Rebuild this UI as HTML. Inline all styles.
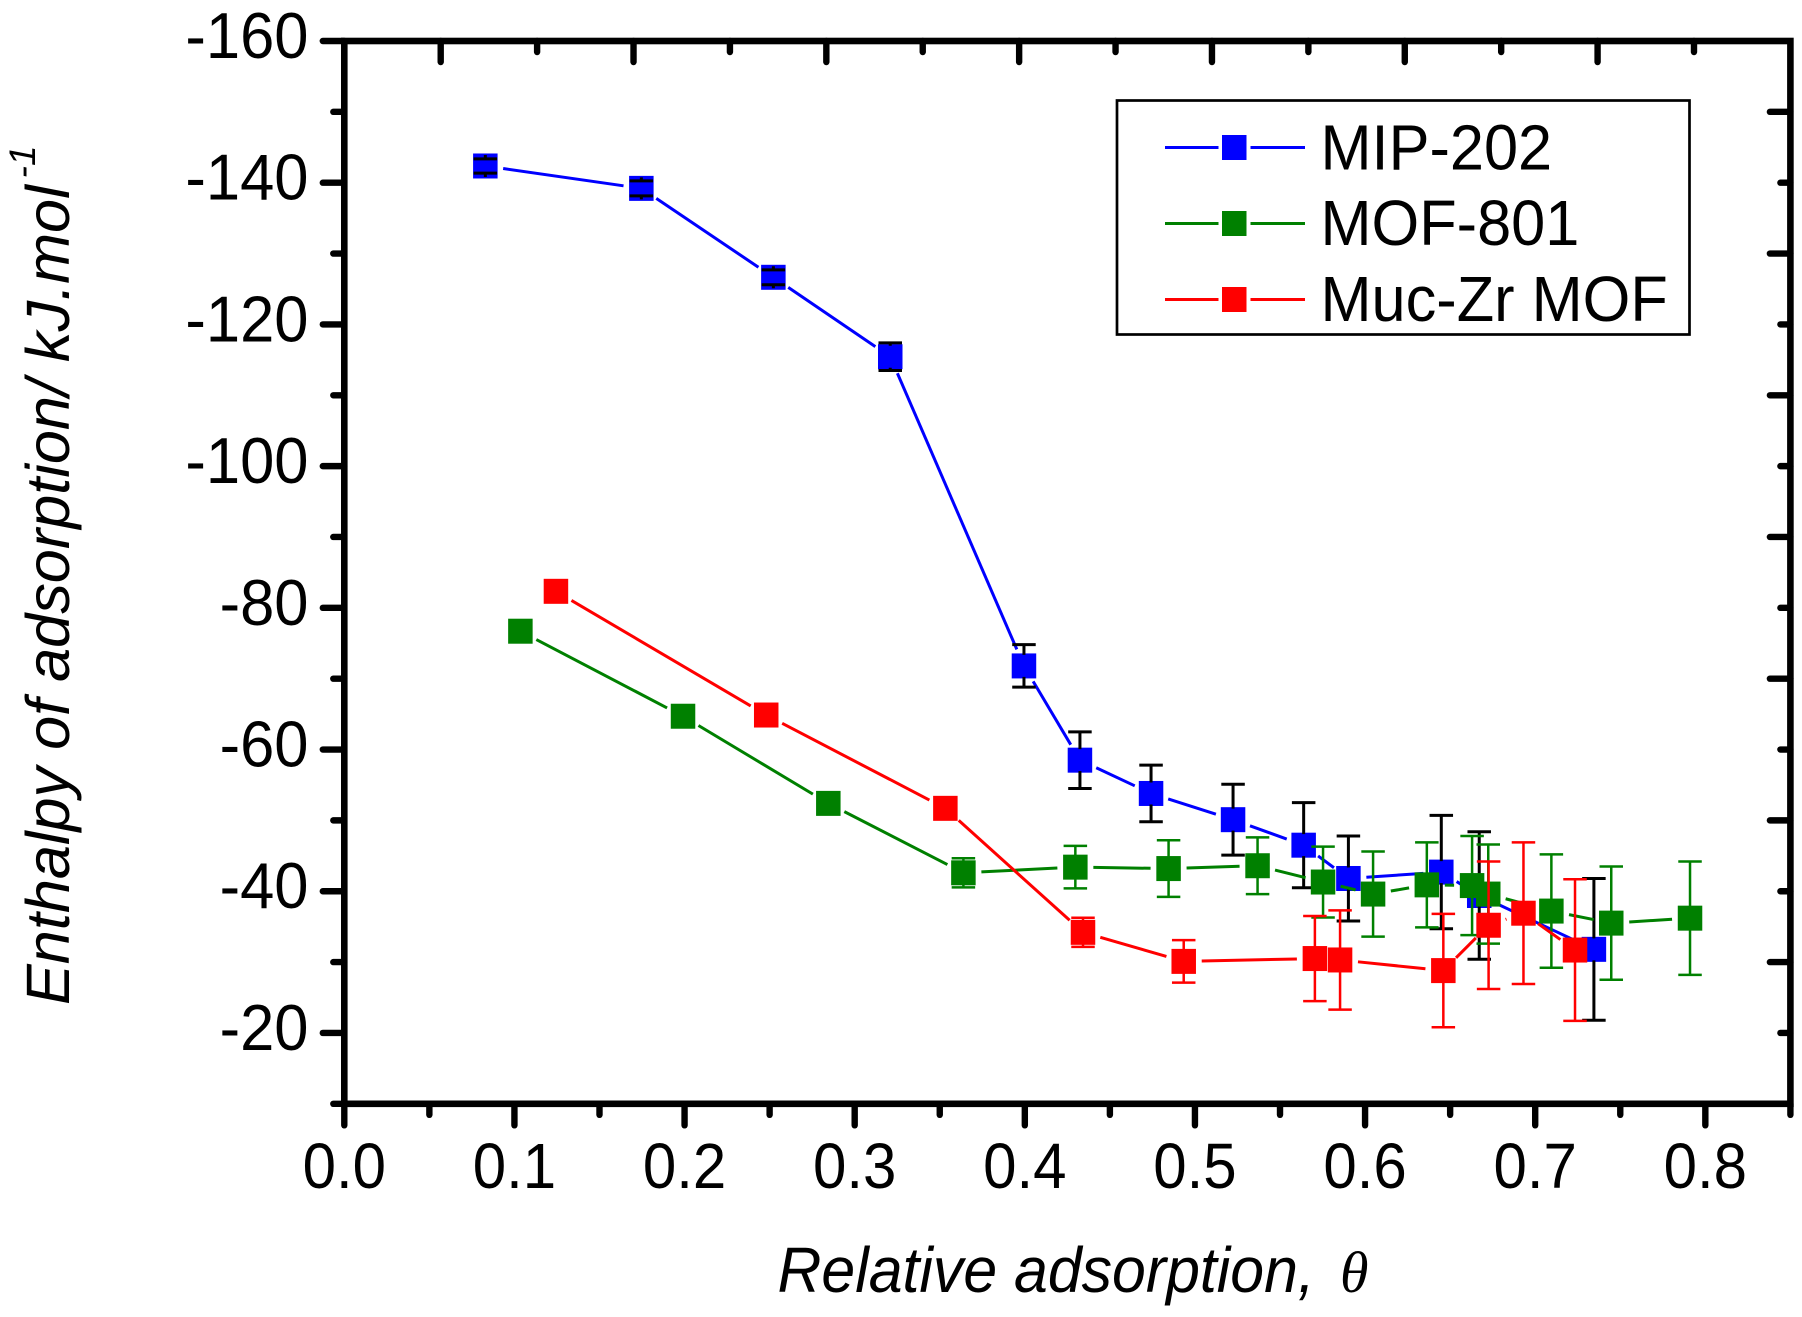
<!DOCTYPE html>
<html lang="en">
<head>
<meta charset="utf-8">
<title>Enthalpy of adsorption vs relative adsorption</title>
<style>
html,body{margin:0;padding:0;background:#fff;}
svg{display:block;}
text{font-family:"Liberation Sans",Arial,sans-serif;fill:#000;}
</style>
</head>
<body>
<svg id="chart" xmlns="http://www.w3.org/2000/svg" width="1802" height="1317" viewBox="0 0 1802 1317">
  <rect x="0" y="0" width="1802" height="1317" fill="#fff"/>
  <g id="series-layer"></g>
  <g id="axis-layer"></g>
  <text transform="translate(69,1005) rotate(-90)" font-size="61.2" font-style="italic">Enthalpy of adsorption/ kJ.mol<tspan dx="7" dy="-34" font-size="37">-1</tspan></text>
  <text transform="translate(777.5,1292) scale(1,1.05)" font-size="60.8" font-style="italic">Relative adsorption,</text>
  <text transform="translate(1340,1292)" font-size="58" font-style="italic" style="font-family:'Liberation Serif',serif">θ</text>
  <g>
    <rect x="1117" y="100.5" width="572.5" height="234" fill="#fff" stroke="#000" stroke-width="2.7"/>
    <g>
      <line x1="1165" x2="1218.5" y1="147.5" y2="147.5" stroke="#0000ff" stroke-width="3"/>
      <line x1="1250.5" x2="1305" y1="147.5" y2="147.5" stroke="#0000ff" stroke-width="3"/>
      <rect x="1222" y="135" width="24.5" height="25" fill="#0000ff"/>
      <text transform="translate(1320.5,169.5) scale(1,1.05)" font-size="61.3">MIP-202</text>
    </g>
    <g>
      <line x1="1165" x2="1218.5" y1="223.5" y2="223.5" stroke="#008000" stroke-width="3"/>
      <line x1="1250.5" x2="1305" y1="223.5" y2="223.5" stroke="#008000" stroke-width="3"/>
      <rect x="1222" y="211" width="24.5" height="25" fill="#008000"/>
      <text transform="translate(1320.5,245) scale(1,1.05)" font-size="61.3">MOF-801</text>
    </g>
    <g>
      <line x1="1165" x2="1218.5" y1="299.5" y2="299.5" stroke="#ff0000" stroke-width="3"/>
      <line x1="1250.5" x2="1305" y1="299.5" y2="299.5" stroke="#ff0000" stroke-width="3"/>
      <rect x="1222" y="287" width="24.5" height="25" fill="#ff0000"/>
      <text transform="translate(1320.5,321) scale(1,1.05)" font-size="61.3">Muc-Zr MOF</text>
    </g>
  </g>
</svg>
<script>
// Data
const mipX = [0.0829,0.1746,0.2522,0.3209,0.3995,0.4324,0.4742,0.5224,0.5639,0.5902,0.6448,0.6671,0.7345];
const mipY = [-142.36,-139.2,-126.65,-115.44,-71.8,-58.5,-53.8,-50.1,-46.5,-41.8,-42.7,-39.4,-31.8];
const mipErr = [1,1.05,1.05,1.95,3,4,4,5,6,6,8,9,10];
const mofX = [0.1035,0.1991,0.2845,0.3639,0.4297,0.4845,0.5368,0.5753,0.6047,0.6363,0.6629,0.6724,0.7095,0.7447,0.7910];
const mofY = [-76.7,-64.7,-52.4,-42.6,-43.4,-43.2,-43.6,-41.3,-39.6,-40.9,-40.8,-39.6,-37.2,-35.5,-36.2];
const mofErr = [0.5,0.5,0.5,2.05,3,4,4,5,6,6,7,7,8,8,8];
const mucX = [0.1244,0.2480,0.3533,0.4342,0.4934,0.5705,0.5853,0.6460,0.6726,0.6931,0.7234];
const mucY = [-82.33,-64.87,-51.7,-34.2,-30.1,-30.5,-30.3,-28.8,-35.2,-36.9,-31.7];
const mucErr = [0.5,0.5,0.5,2.05,3,6,7,8,9,10,10];
const yMajorTicks = [-160,-140,-120,-100,-80,-60,-40,-20];
const yMinorTicks = [-150,-130,-110,-90,-70,-50,-30,-10];
const yRightMajorTicks = [-150,-130,-110,-90,-70,-50,-30];
const yRightMinorTicks = [-140,-120,-100,-80,-60,-40,-20];
const xMajorTicks = [0,0.1,0.2,0.3,0.4,0.5,0.6,0.7,0.8];
const xMinorTicks = [0.05,0.15,0.25,0.35,0.45,0.55,0.65,0.75,0.85];
const xTickLabels = ['0.0','0.1','0.2','0.3','0.4','0.5','0.6','0.7','0.8'];
const yTickLabels = ['-160','-140','-120','-100','-80','-60','-40','-20'];
const topTickIndex = [1,2,3,4,5,6,7,8,9,10,11,12,13,14];

const NS = 'http://www.w3.org/2000/svg';
const left = 344.3, right = 1790.4, top_ = 41, bottom = 1103.8;
const xMin = 0, xMax = 0.85, yMin = -160, yMax = -10;
function sx(v){ return left + (v - xMin) / (xMax - xMin) * (right - left); }
function sy(v){ return top_ + (v - yMin) / (yMax - yMin) * (bottom - top_); }
function mk(tag, parent, attrs){
  const e = document.createElementNS(NS, tag);
  for (const k in attrs) e.setAttribute(k, attrs[k]);
  parent.appendChild(e);
  return e;
}

// Series
const seriesLayer = document.getElementById('series-layer');
function drawSeries(name, xs, ys, errs, color, errColor, errWidth){
  const g = mk('g', seriesLayer, {});
  
  
  const gap = 18;
  for (let i = 0; i < xs.length - 1; i++){
    const x1 = sx(xs[i]), y1 = sy(ys[i]), x2 = sx(xs[i+1]), y2 = sy(ys[i+1]);
    const d = Math.hypot(x2 - x1, y2 - y1);
    if (d <= gap * 2) continue;
    const ux = (x2 - x1) / d, uy = (y2 - y1) / d;
    const seg = mk('line', g, {x1: x1 + ux * gap, y1: y1 + uy * gap, x2: x2 - ux * gap, y2: y2 - uy * gap, stroke: color, 'stroke-width': 3});
    
    
  }
  for (let i = 0; i < xs.length; i++){
    const cx = sx(xs[i]), cy = sy(ys[i]);
    const m = mk('rect', g, {x: cx - 12.25, y: cy - 12.5, width: 24.5, height: 25, fill: color});
    
    
    const up = sy(ys[i] - errs[i]), dn = sy(ys[i] + errs[i]);
    if (errs[i] >= 1){
      const eb = mk('path', g, {
        d: 'M' + cx + ' ' + (cy - 11) + 'V' + up + 'M' + (cx - 11.75) + ' ' + up + 'H' + (cx + 11.75) +
           'M' + cx + ' ' + (cy + 11) + 'V' + dn + 'M' + (cx - 11.75) + ' ' + dn + 'H' + (cx + 11.75),
        fill: 'none', stroke: errColor, 'stroke-width': errWidth});
      
      
    }
  }
}
drawSeries('mip-202', mipX, mipY, mipErr, '#0000ff', '#000000', 3);
drawSeries('mof-801', mofX, mofY, mofErr, '#008000', '#008000', 2.5);
drawSeries('muc-zr-mof', mucX, mucY, mucErr, '#ff0000', '#ff0000', 2.5);

// Axes
const axisLayer = document.getElementById('axis-layer');
const frame = mk('rect', axisLayer, {x: left, y: top_, width: right - left, height: bottom - top_, fill: 'none', stroke: '#000', 'stroke-width': 6.6});


function tick(x1, y1, x2, y2, name){
  const t = mk('line', axisLayer, {x1: x1, y1: y1, x2: x2, y2: y2, stroke: '#000', 'stroke-width': 6.4, 'stroke-linecap': 'round'});
  
  
}
yMajorTicks.forEach(function(v){ tick(left, sy(v), left - 21.5, sy(v), 'y-major-tick'); });
yMinorTicks.forEach(function(v){ tick(left, sy(v), left - 11, sy(v), 'y-minor-tick'); });
yRightMajorTicks.forEach(function(v){ tick(right, sy(v), right - 20.5, sy(v), 'right-major-tick'); });
yRightMinorTicks.forEach(function(v){ tick(right, sy(v), right - 10, sy(v), 'right-minor-tick'); });
xMajorTicks.forEach(function(v){ tick(sx(v), bottom, sx(v), bottom + 21.5, 'x-major-tick'); });
xMinorTicks.forEach(function(v){ tick(sx(v), bottom, sx(v), bottom + 11, 'x-minor-tick'); });
topTickIndex.forEach(function(i){
  const x = sx(i * (xMax - xMin) / 15);
  const isMajor = i % 2 === 1;
  tick(x, top_, x, top_ + (isMajor ? 21 : 11), isMajor ? 'top-major-tick' : 'top-minor-tick');
});
yTickLabels.forEach(function(lab, i){
  const t = mk('text', axisLayer, {transform: 'translate(308.5,' + (sy(yMajorTicks[i]) + 17) + ') scale(1,1.05)', 'font-size': 61.5, 'text-anchor': 'end'});
  t.textContent = lab;
  
  
});
xTickLabels.forEach(function(lab, i){
  const t = mk('text', axisLayer, {transform: 'translate(' + sx(xMajorTicks[i]) + ',1188) scale(1,1.06)', 'font-size': 60, 'text-anchor': 'middle'});
  t.textContent = lab;
  
  
});
</script>
</body>
</html>
